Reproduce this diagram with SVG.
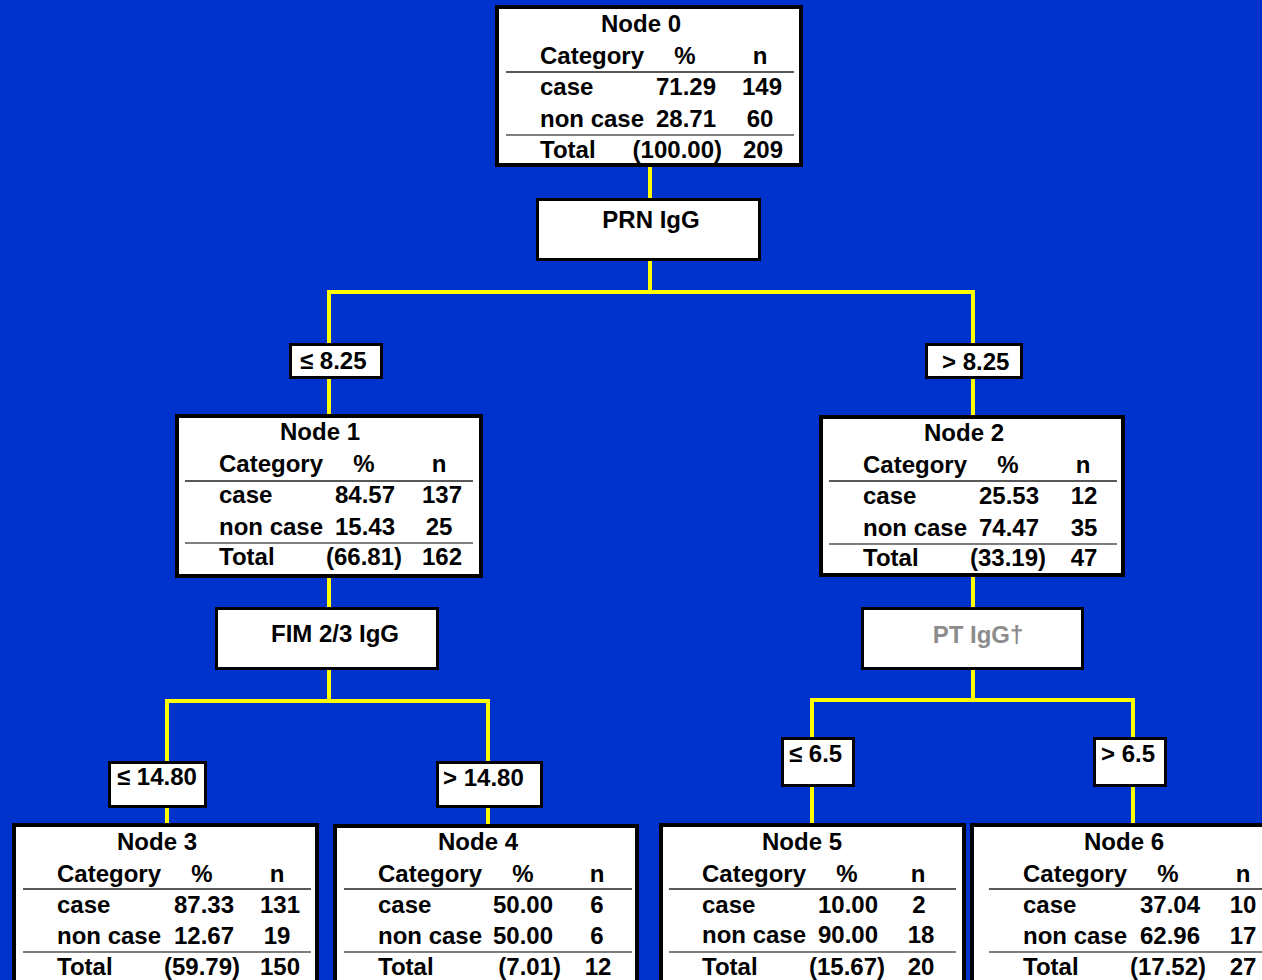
<svg xmlns="http://www.w3.org/2000/svg" width="1262" height="980" viewBox="0 0 1262 980">
<style>
text{font-family:"Liberation Sans",Arial,sans-serif;font-weight:bold;font-size:24px;fill:#000}
.box{fill:#fff;stroke:#000;stroke-width:4}
.lbl{fill:#fff;stroke:#000;stroke-width:3}
.c{text-anchor:middle}
.e{text-anchor:end}
.rule{stroke:#222;stroke-width:1.5}
.rule2{stroke:#555;stroke-width:1.5}
.con{fill:none;stroke:#ffff00;stroke-width:4;stroke-linejoin:miter;stroke-linecap:butt}
.gray{fill:#8c8c8c}
</style>
<rect x="0" y="0" width="1262" height="980" fill="#0033cc"/>

<g id="connectors">
<path class="con" d="M650,167V198M650,261V292M329,343V292H973V343M329,379V414M973,379V415"/>
<path class="con" d="M329,578V607M329,670V701M167,761V701H488V761M167,808V823M488,808V824"/>
<path class="con" d="M973,577V607M973,670V700M812,737V700H1133V737M812,787V823M1133,787V823"/>
</g>

<g id="node0" transform="translate(495,5)">
<rect class="box" x="2" y="2" width="304" height="158"/>
<text class="c" x="146" y="27">Node 0</text>
<text x="45" y="59">Category</text><text class="c" x="190" y="59">%</text><text class="c" x="265" y="59">n</text>
<line class="rule" x1="11" y1="67" x2="299" y2="67"/>
<text x="45" y="90">case</text><text class="e" x="221" y="90">71.29</text><text class="c" x="267" y="90">149</text>
<text x="45" y="122">non case</text><text class="e" x="221" y="122">28.71</text><text class="c" x="265" y="122">60</text>
<line class="rule2" x1="11" y1="130" x2="299" y2="130"/>
<text x="45" y="153">Total</text><text class="e" x="227" y="153">(100.00)</text><text class="c" x="268" y="153">209</text>
</g>

<g id="split0">
<rect class="lbl" x="537.5" y="199.5" width="222" height="60"/>
<text class="c" x="651" y="228">PRN IgG</text>
</g>

<g id="lbl1">
<rect class="lbl" x="290.5" y="344.5" width="91" height="33"/>
<text x="300" y="369">≤ 8.25</text>
</g>
<g id="lbl2">
<rect class="lbl" x="926.5" y="344.5" width="95" height="33"/>
<text x="942" y="370">&gt; 8.25</text>
</g>

<g id="node1" transform="translate(175,414)">
<rect class="box" x="2" y="2" width="304" height="160"/>
<text class="c" x="145" y="26">Node 1</text>
<text x="44" y="58">Category</text><text class="c" x="189" y="58">%</text><text class="c" x="264" y="58">n</text>
<line class="rule" x1="10" y1="67" x2="298" y2="67"/>
<text x="44" y="89">case</text><text class="e" x="220" y="89">84.57</text><text class="c" x="267" y="89">137</text>
<text x="44" y="121">non case</text><text class="e" x="220" y="121">15.43</text><text class="c" x="264" y="121">25</text>
<line class="rule2" x1="10" y1="129" x2="298" y2="129"/>
<text x="44" y="151">Total</text><text class="e" x="227" y="151">(66.81)</text><text class="c" x="267" y="151">162</text>
</g>

<g id="node2" transform="translate(819,415)">
<rect class="box" x="2" y="2" width="302" height="158"/>
<text class="c" x="145" y="26">Node 2</text>
<text x="44" y="58">Category</text><text class="c" x="189" y="58">%</text><text class="c" x="264" y="58">n</text>
<line class="rule" x1="10" y1="66" x2="298" y2="66"/>
<text x="44" y="89">case</text><text class="e" x="220" y="89">25.53</text><text class="c" x="265" y="89">12</text>
<text x="44" y="121">non case</text><text class="e" x="220" y="121">74.47</text><text class="c" x="265" y="121">35</text>
<line class="rule2" x1="10" y1="129" x2="298" y2="129"/>
<text x="44" y="151">Total</text><text class="e" x="227" y="151">(33.19)</text><text class="c" x="265" y="151">47</text>
</g>

<g id="split1">
<rect class="lbl" x="216.5" y="608.5" width="221" height="60"/>
<text class="c" x="335" y="642">FIM 2/3 IgG</text>
</g>
<g id="split2">
<rect class="lbl" x="862.5" y="608.5" width="220" height="60"/>
<text class="c gray" x="978" y="643">PT IgG†</text>
</g>

<g id="lbl3">
<rect class="lbl" x="109.5" y="762.5" width="96" height="44"/>
<text x="117" y="785">≤ 14.80</text>
</g>
<g id="lbl4">
<rect class="lbl" x="437.5" y="762.5" width="104" height="44"/>
<text x="443" y="786">&gt; 14.80</text>
</g>
<g id="lbl5">
<rect class="lbl" x="782.5" y="738.5" width="71" height="47"/>
<text x="789" y="762">≤ 6.5</text>
</g>
<g id="lbl6">
<rect class="lbl" x="1094.5" y="738.5" width="71" height="47"/>
<text x="1101" y="762">&gt; 6.5</text>
</g>

<g id="node3" transform="translate(12,823)">
<rect class="box" x="2" y="2" width="303" height="200"/>
<text class="c" x="145" y="27">Node 3</text>
<text x="45" y="59">Category</text><text class="c" x="190" y="59">%</text><text class="c" x="265" y="59">n</text>
<line class="rule" x1="11" y1="66" x2="299" y2="66"/>
<text x="45" y="90">case</text><text class="e" x="222" y="90">87.33</text><text class="c" x="268" y="90">131</text>
<text x="45" y="121">non case</text><text class="e" x="222" y="121">12.67</text><text class="c" x="265" y="121">19</text>
<line class="rule2" x1="11" y1="129" x2="299" y2="129"/>
<text x="45" y="152">Total</text><text class="e" x="228" y="152">(59.79)</text><text class="c" x="268" y="152">150</text>
</g>

<g id="node4" transform="translate(333,824)">
<rect class="box" x="2" y="2" width="302" height="200"/>
<text class="c" x="145" y="26">Node 4</text>
<text x="45" y="58">Category</text><text class="c" x="190" y="58">%</text><text class="c" x="264" y="58">n</text>
<line class="rule" x1="11" y1="65" x2="299" y2="65"/>
<text x="45" y="89">case</text><text class="e" x="220" y="89">50.00</text><text class="c" x="264" y="89">6</text>
<text x="45" y="120">non case</text><text class="e" x="220" y="120">50.00</text><text class="c" x="264" y="120">6</text>
<line class="rule2" x1="11" y1="128" x2="299" y2="128"/>
<text x="45" y="151">Total</text><text class="e" x="228" y="151">(7.01)</text><text class="c" x="265" y="151">12</text>
</g>

<g id="node5" transform="translate(659,823)">
<rect class="box" x="2" y="2" width="303" height="200"/>
<text class="c" x="143" y="27">Node 5</text>
<text x="43" y="59">Category</text><text class="c" x="188" y="59">%</text><text class="c" x="259" y="59">n</text>
<line class="rule" x1="10" y1="66" x2="297" y2="66"/>
<text x="43" y="90">case</text><text class="e" x="219" y="90">10.00</text><text class="c" x="260" y="90">2</text>
<text x="43" y="120">non case</text><text class="e" x="219" y="120">90.00</text><text class="c" x="262" y="120">18</text>
<line class="rule2" x1="10" y1="129" x2="297" y2="129"/>
<text x="43" y="152">Total</text><text class="e" x="226" y="152">(15.67)</text><text class="c" x="262" y="152">20</text>
</g>

<g id="node6" transform="translate(978,823)">
<rect class="box" x="-6" y="2" width="320" height="200"/>
<text class="c" x="146" y="27">Node 6</text>
<text x="45" y="59">Category</text><text class="c" x="190" y="59">%</text><text class="c" x="265" y="59">n</text>
<line class="rule" x1="11" y1="66" x2="299" y2="66"/>
<text x="45" y="90">case</text><text class="e" x="222" y="90">37.04</text><text class="c" x="265" y="90">10</text>
<text x="45" y="121">non case</text><text class="e" x="222" y="121">62.96</text><text class="c" x="265" y="121">17</text>
<line class="rule2" x1="11" y1="129" x2="299" y2="129"/>
<text x="45" y="152">Total</text><text class="e" x="228" y="152">(17.52)</text><text class="c" x="265" y="152">27</text>
</g>
</svg>
